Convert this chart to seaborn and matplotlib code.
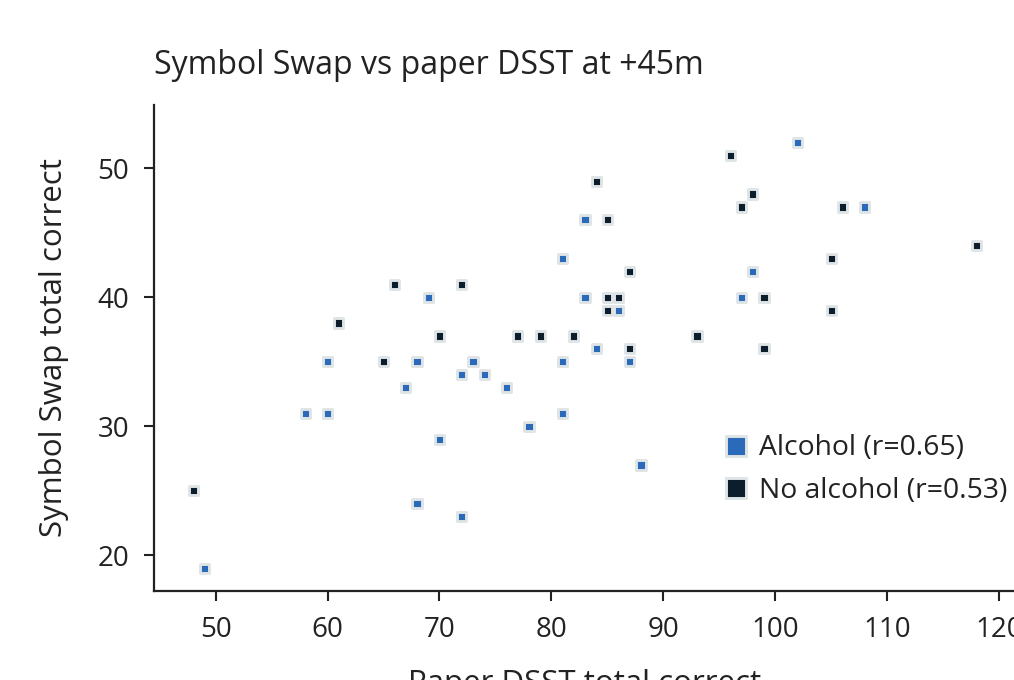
import pandas as pd
import matplotlib
matplotlib.use("Agg")
import matplotlib.pyplot as plt
import seaborn as sns

# Paper DSST (x) vs Symbol Swap (y) at +45m
alcohol_x = [49, 58, 60, 60, 67, 68, 69, 68, 70, 72, 73, 74, 72, 76, 78, 81, 81, 81,
             83, 83, 84, 86, 87, 88, 97, 98, 102, 108]
alcohol_y = [19, 31, 31, 35, 33, 35, 40, 24, 29, 34, 35, 34, 23, 33, 30, 43, 35, 31,
             46, 40, 36, 39, 35, 27, 40, 42, 52, 47]
no_alcohol_x = [48, 61, 65, 66, 70, 72, 77, 79, 82, 84, 85, 87, 85, 86, 85, 87, 93,
                96, 98, 97, 99, 99, 105, 105, 106, 118]
no_alcohol_y = [25, 38, 35, 41, 37, 41, 37, 37, 37, 49, 46, 42, 40, 40, 39, 36, 37,
                51, 48, 47, 40, 36, 43, 39, 47, 44]
group_labels = ["Alcohol (r=0.65)", "No alcohol (r=0.53)"]
group_colors = ["#2a6ab8", "#0c1e2b"]
x_ticks = [50, 60, 70, 80, 90, 100, 110, 120]
y_ticks = [20, 30, 40, 50]

df = pd.DataFrame({
    "dsst": alcohol_x + no_alcohol_x,
    "swap": alcohol_y + no_alcohol_y,
    "group": [group_labels[0]] * len(alcohol_x) + [group_labels[1]] * len(no_alcohol_x),
})

sns.set_style("white")
plt.rcParams["font.family"] = ["Open Sans", "DejaVu Sans"]

fig = plt.figure(figsize=(10.14, 6.8), dpi=100)
ax = fig.add_axes([0.1519, 0.1313, 0.850, 0.7143])

sns.scatterplot(data=df, x="dsst", y="swap", hue="group", hue_order=group_labels,
                palette=dict(zip(group_labels, group_colors)), marker="s", s=44,
                edgecolor="#dfe4e7", linewidth=2.1, ax=ax)

ax.set_xlim(44.5, 121.5)
ax.set_ylim(17.26, 54.9)
ax.set_xticks(x_ticks)
ax.set_yticks(y_ticks)

for side in ["top", "right"]:
    ax.spines[side].set_visible(False)
for side in ["left", "bottom"]:
    ax.spines[side].set_color("#222222")
    ax.spines[side].set_linewidth(1.6)
ax.tick_params(axis="both", which="both", direction="out", length=7, width=1.5,
               color="#222222", labelsize=20, labelcolor="#222222", pad=11,
               left=True, bottom=True)

ax.set_title("Symbol Swap vs paper DSST at +45m", loc="left", fontsize=23,
             color="#222222", pad=22)
ax.set_xlabel("Paper DSST total correct", fontsize=22.5, color="#222222", labelpad=18)
ax.set_ylabel("Symbol Swap total correct", fontsize=22.5, color="#222222", labelpad=20)

leg = ax.legend(loc="upper left", bbox_to_anchor=(0.643, 0.345), frameon=False,
                fontsize=20.3, markerscale=2.1, handletextpad=0.2, labelspacing=0.5,
                borderaxespad=0, handlelength=1.2)
for txt in leg.get_texts():
    txt.set_color("#222222")

fig.savefig("out.png", dpi=100)
